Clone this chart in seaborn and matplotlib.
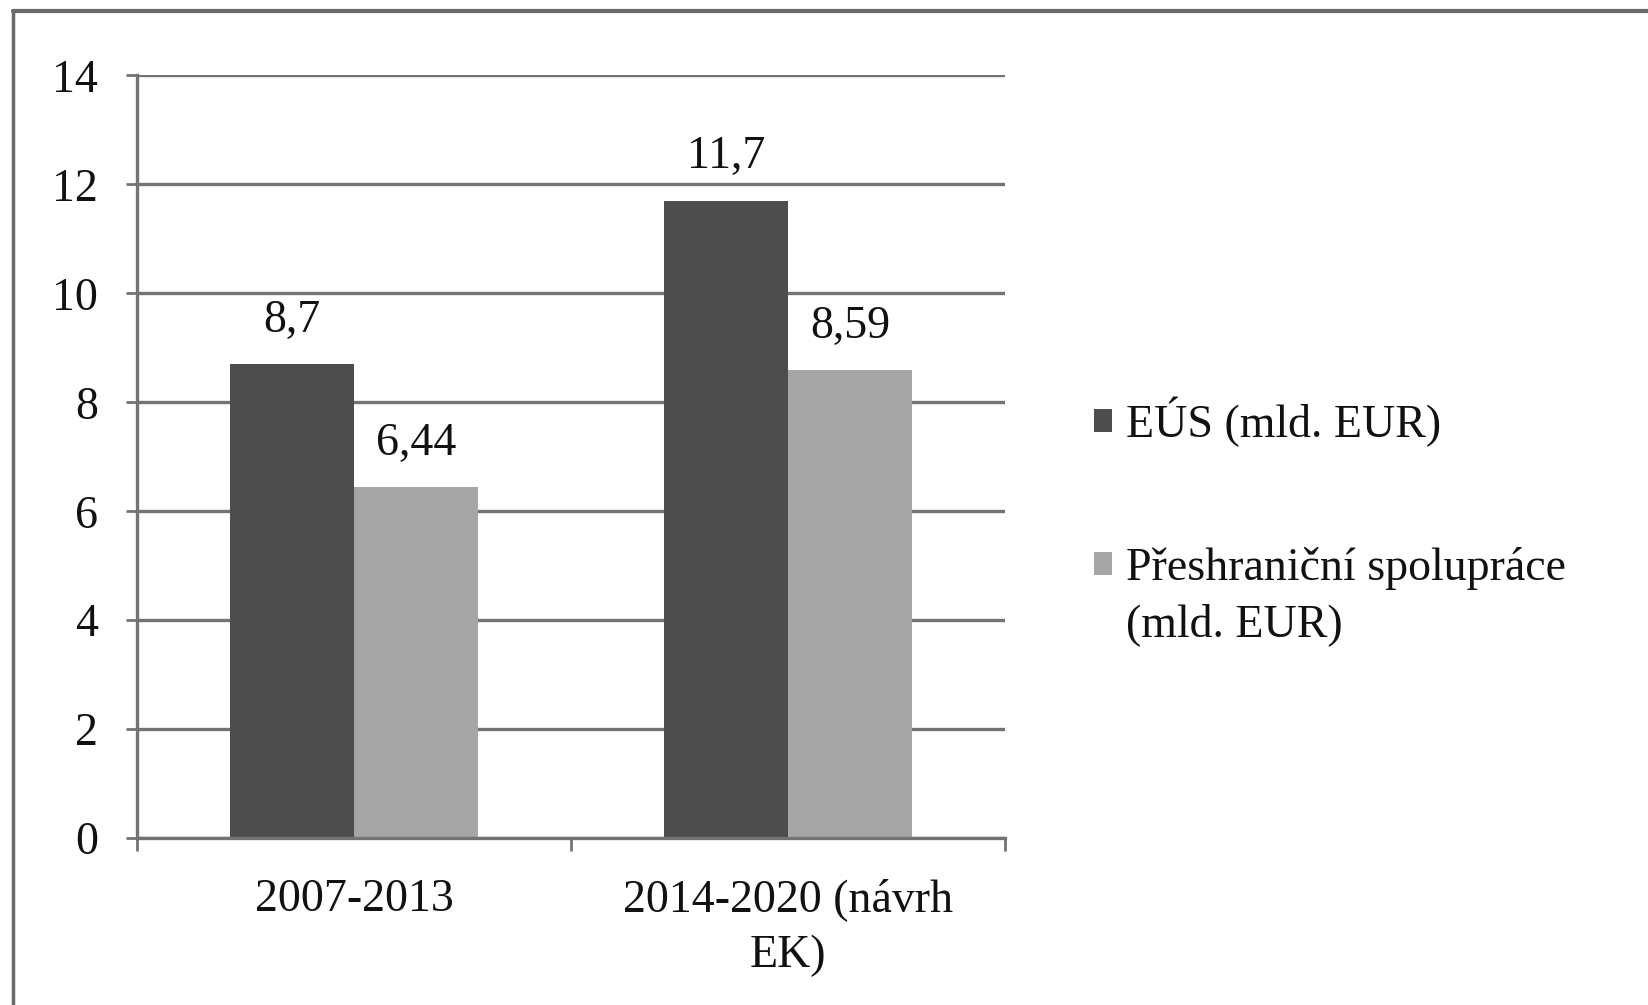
import matplotlib
matplotlib.use("Agg")
import matplotlib.pyplot as plt
from matplotlib.lines import Line2D
import pandas as pd
import seaborn as sns

# --- data ---
obdobi = ["2007-2013", "2014-2020 (návrh\nEK)"]
rady = ["EÚS (mld. EUR)", "Přeshraniční spolupráce (mld. EUR)"]
legenda = ["EÚS (mld. EUR)", "Přeshraniční spolupráce"]
legenda_pokr = "(mld. EUR)"
eus = [8.7, 11.7]
preshranicni = [6.44, 8.59]
y_ticks = [0, 2, 4, 6, 8, 10, 12, 14]

barvy = ["#4d4d4d", "#a6a6a6"]
seda = "#737373"
text_barva = "#111111"
FS = 33

df = pd.DataFrame({
    "obdobi": obdobi * 2,
    "rada": [rady[0]] * len(obdobi) + [rady[1]] * len(obdobi),
    "hodnota": eus + preshranicni,
})


def main():
    sns.set_style("white")
    plt.rcParams["font.family"] = ["Liberation Serif", "DejaVu Serif"]
    plt.rcParams["font.size"] = FS

    fig = plt.figure(figsize=(16.48, 10.05), dpi=100)
    ax = fig.add_axes([0.083, 0.166, 0.527, 0.759])

    sns.barplot(data=df, x="obdobi", y="hodnota", hue="rada", palette=barvy,
                width=0.57, gap=0, saturation=1, errorbar=None,
                linewidth=0, ax=ax)

    # value labels with decimal comma
    for cont, vals in zip(ax.containers, [eus, preshranicni]):
        ax.bar_label(cont, labels=[str(v).replace(".", ",") for v in vals],
                     padding=16, fontsize=FS, color=text_barva)

    ax.set_ylim(0, 14)
    ax.set_xlim(-0.5, 1.5)
    ax.set_yticks(y_ticks)
    ax.set_yticklabels([str(t) for t in y_ticks])
    ax.yaxis.grid(True, color=seda, linewidth=2.4)
    ax.set_axisbelow(True)

    # ticks: y on the left, x at category boundaries
    ax.tick_params(axis="y", left=True, length=8, width=2, color=seda,
                   pad=20, labelsize=FS, labelcolor=text_barva)
    ax.set_xticks([-0.5, 0.5, 1.5], minor=True)
    ax.tick_params(axis="x", which="minor", bottom=True, length=9, width=2,
                   color=seda)
    ax.tick_params(axis="x", which="major", bottom=False, length=0, pad=29,
                   labelsize=FS, labelcolor=text_barva)
    for t in ax.get_xticklabels():
        t.set_linespacing(1.4)

    for s in ["top", "right"]:
        ax.spines[s].set_visible(False)
    for s in ["left", "bottom"]:
        ax.spines[s].set_color(seda)
        ax.spines[s].set_linewidth(2.4)

    ax.set_xlabel("")
    ax.set_ylabel("")

    handles, _ = ax.get_legend_handles_labels()
    leg = ax.legend(handles, legenda, loc="upper left",
                    bbox_to_anchor=(0.650, 0.628), bbox_transform=fig.transFigure,
                    frameon=False, handlelength=0.4, handleheight=0.4,
                    handletextpad=0.3, labelspacing=2.17, borderpad=0,
                    fontsize=FS, labelcolor=text_barva)

    # second line of the second legend label, under its first line
    fig.canvas.draw()
    bb = leg.get_texts()[1].get_window_extent()
    x0, y0 = fig.transFigure.inverted().transform((bb.x0, bb.y0 - 13))
    fig.text(x0, y0, legenda_pokr, ha="left", va="top", fontsize=FS,
             color=text_barva)

    # outer frame of the original picture (top and left edges visible)
    fig.add_artist(Line2D([0.008, 1.0], [0.989, 0.989], color="#6a6a6a",
                          linewidth=3, transform=fig.transFigure))
    fig.add_artist(Line2D([0.008, 0.008], [0.0, 0.989], color="#6a6a6a",
                          linewidth=2.5, transform=fig.transFigure))

    fig.savefig("out.png", dpi=100)


if __name__ == "__main__":
    main()
